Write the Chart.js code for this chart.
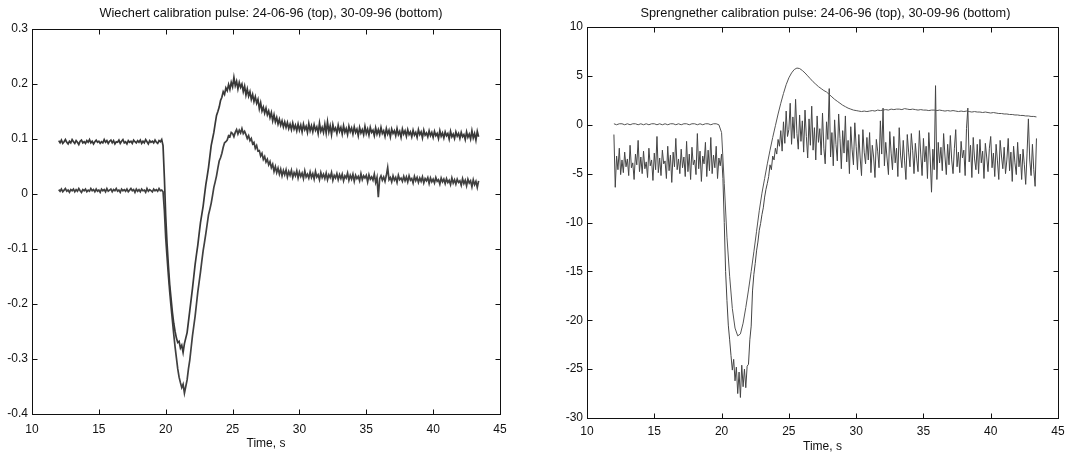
<!DOCTYPE html>
<html><head><meta charset="utf-8">
<script src="https://cdn.jsdelivr.net/npm/chart.js@4.4.1/dist/chart.umd.min.js"></script>
<style>
html,body{margin:0;padding:0;background:#fff;}
#wrap{position:relative;width:1091px;height:454px;background:#fff;}
#c1{position:absolute;left:0;top:0;}
#c2{position:absolute;left:545px;top:0;}
</style></head><body>
<div id="wrap"><canvas id="c1" width="545" height="454"></canvas><canvas id="c2" width="546" height="454"></canvas></div>
<script>
// sampling grids of the traces (seconds)
const T_START = 12.0;
const T_STEP_FINE = 0.1;     // Wiechert traces and noisy Sprengnether trace
const T_STEP_SMOOTH = 0.2;   // smooth Sprengnether trace

// Wiechert, 24-06-96 (top trace), 0.1 s samples
const wiechertTop = [
 0.097,0.093,0.098,0.092,0.095,0.099,0.094,0.091,0.096,0.093,
 0.099,0.095,0.092,0.097,0.094,0.090,0.096,0.098,0.093,0.095,
 0.092,0.097,0.094,0.099,0.093,0.096,0.091,0.095,0.098,0.094,
 0.096,0.092,0.095,0.093,0.099,0.094,0.097,0.092,0.096,0.098,
 0.093,0.097,0.091,0.095,0.094,0.098,0.092,0.096,0.099,0.093,
 0.095,0.091,0.097,0.094,0.096,0.092,0.098,0.095,0.093,0.097,
 0.094,0.098,0.092,0.096,0.093,0.099,0.095,0.091,0.097,0.094,
 0.096,0.093,0.098,0.094,0.092,0.097,0.095,0.099,0.088,0.030,
 -0.040,-0.090,-0.130,-0.165,-0.190,-0.215,-0.235,-0.250,-0.262,-0.270,
 -0.268,-0.280,-0.275,-0.288,-0.272,-0.262,-0.252,-0.232,-0.212,-0.192,
 -0.172,-0.150,-0.128,-0.110,-0.093,-0.072,-0.052,-0.037,-0.022,-0.002,
 0.017,0.032,0.048,0.068,0.088,0.100,0.112,0.128,0.143,0.150,
 0.158,0.170,0.176,0.186,0.181,0.193,0.188,0.199,0.190,0.203,
 0.195,0.212,0.197,0.205,0.191,0.203,0.194,0.200,0.186,0.196,
 0.180,0.191,0.178,0.186,0.172,0.181,0.168,0.177,0.165,0.172,
 0.155,0.166,0.151,0.158,0.147,0.156,0.144,0.151,0.139,0.148,
 0.133,0.144,0.131,0.139,0.127,0.136,0.125,0.133,0.122,0.131,
 0.121,0.130,0.119,0.127,0.117,0.129,0.118,0.125,0.115,0.127,
 0.116,0.125,0.113,0.127,0.117,0.123,0.112,0.128,0.115,0.124,
 0.113,0.126,0.116,0.122,0.110,0.129,0.114,0.121,0.112,0.127,
 0.111,0.131,0.113,0.124,0.108,0.126,0.115,0.120,0.110,0.125,
 0.114,0.121,0.109,0.124,0.112,0.119,0.108,0.123,0.113,0.120,
 0.109,0.122,0.112,0.118,0.106,0.121,0.111,0.117,0.108,0.123,
 0.110,0.118,0.107,0.121,0.112,0.116,0.106,0.120,0.109,0.117,
 0.108,0.121,0.110,0.115,0.105,0.119,0.109,0.116,0.104,0.118,
 0.110,0.115,0.106,0.119,0.108,0.114,0.103,0.118,0.109,0.115,
 0.105,0.117,0.108,0.113,0.104,0.116,0.107,0.112,0.103,0.117,
 0.108,0.113,0.102,0.116,0.107,0.111,0.104,0.115,0.106,0.112,
 0.103,0.114,0.106,0.110,0.101,0.115,0.105,0.111,0.102,0.113,
 0.106,0.110,0.100,0.114,0.104,0.109,0.101,0.113,0.105,0.110,
 0.101,0.112,0.104,0.108,0.099,0.113,0.103,0.109,0.100,0.115,
 0.102,0.110,0.098,0.114,0.104
];
// Wiechert, 30-09-96 (bottom trace), 0.1 s samples
const wiechertBottom = [
 0.008,0.005,0.009,0.004,0.007,0.010,0.005,0.007,0.003,0.008,
 0.006,0.009,0.004,0.008,0.005,0.010,0.006,0.003,0.008,0.006,
 0.009,0.004,0.007,0.005,0.010,0.006,0.008,0.004,0.009,0.005,
 0.007,0.003,0.009,0.006,0.008,0.004,0.010,0.005,0.007,0.009,
 0.004,0.008,0.006,0.010,0.005,0.007,0.003,0.009,0.006,0.008,
 0.005,0.009,0.004,0.007,0.010,0.006,0.008,0.003,0.009,0.005,
 0.008,0.004,0.009,0.006,0.007,0.003,0.010,0.005,0.008,0.006,
 0.004,0.009,0.006,0.008,0.005,0.010,0.006,0.007,0.004,-0.030,
 -0.080,-0.115,-0.148,-0.178,-0.205,-0.230,-0.255,-0.278,-0.298,-0.318,
 -0.333,-0.343,-0.352,-0.346,-0.362,-0.350,-0.338,-0.318,-0.302,-0.280,
 -0.258,-0.240,-0.222,-0.200,-0.178,-0.160,-0.142,-0.122,-0.103,-0.088,
 -0.072,-0.055,-0.038,-0.028,-0.017,-0.003,0.012,0.022,0.033,0.047,
 0.060,0.066,0.074,0.085,0.093,0.095,0.098,0.106,0.104,0.112,
 0.110,0.104,0.112,0.117,0.109,0.116,0.111,0.119,0.110,0.114,
 0.108,0.101,0.106,0.097,0.101,0.091,0.094,0.083,0.088,0.078,
 0.079,0.069,0.074,0.063,0.068,0.058,0.063,0.053,0.059,0.048,
 0.054,0.041,0.050,0.039,0.047,0.036,0.045,0.033,0.043,0.035,
 0.044,0.031,0.041,0.034,0.043,0.030,0.039,0.033,0.042,0.029,
 0.040,0.032,0.038,0.028,0.042,0.031,0.036,0.029,0.040,0.030,
 0.037,0.027,0.041,0.031,0.035,0.026,0.039,0.030,0.036,0.028,
 0.038,0.026,0.035,0.030,0.039,0.025,0.034,0.029,0.037,0.026,
 0.035,0.028,0.036,0.024,0.033,0.029,0.038,0.025,0.034,0.027,
 0.036,0.023,0.034,0.028,0.032,0.024,0.037,0.026,0.033,0.029,
 0.034,0.022,0.035,0.027,0.031,0.025,0.036,0.021,0.030,-0.006,
 0.028,0.033,0.025,0.031,0.023,0.034,0.048,0.026,0.030,0.022,
 0.033,0.025,0.030,0.021,0.034,0.026,0.029,0.023,0.032,0.024,
 0.031,0.022,0.033,0.025,0.028,0.020,0.032,0.024,0.030,0.021,
 0.029,0.023,0.031,0.020,0.028,0.024,0.030,0.019,0.029,0.022,
 0.027,0.020,0.030,0.023,0.026,0.018,0.029,0.022,0.027,0.019,
 0.028,0.021,0.025,0.017,0.029,0.020,0.026,0.018,0.027,0.021,
 0.024,0.016,0.028,0.019,0.025,0.015,0.027,0.020,0.024,0.013,
 0.026,0.017,0.023,0.012,0.024
];
// Sprengnether, 24-06-96 (top trace, smooth), 0.2 s samples
const sprengTop = [
 0.1,0.0,0.1,0.1,0.0,0.1,0.0,0.1,0.1,0.0,
 0.1,0.0,0.1,0.0,0.1,0.1,0.0,0.1,0.0,0.1,
 0.0,0.1,0.1,0.0,0.1,0.0,0.1,0.1,0.0,0.1,
 0.1,0.0,0.1,0.0,0.1,0.1,0.0,0.1,0.1,0.0,
 -0.8,-6.0,-11.5,-15.5,-18.8,-20.8,-21.6,-21.4,-20.3,-18.7,
 -16.9,-15.0,-13.0,-10.9,-8.8,-7.0,-5.5,-4.0,-2.6,-1.3,
 -0.1,1.1,2.2,3.2,4.1,4.8,5.3,5.65,5.8,5.75,
 5.55,5.3,5.0,4.7,4.4,4.15,3.9,3.7,3.5,3.35,
 3.1,2.85,2.6,2.4,2.2,2.0,1.85,1.7,1.6,1.5,
 1.45,1.4,1.35,1.4,1.35,1.4,1.45,1.4,1.5,1.45,
 1.5,1.55,1.5,1.6,1.55,1.6,1.6,1.55,1.65,1.6,
 1.55,1.6,1.55,1.5,1.55,1.5,1.5,1.45,1.5,1.5,
 1.45,1.5,1.45,1.4,1.45,1.4,1.45,1.4,1.35,1.4,
 1.35,1.4,1.35,1.3,1.35,1.3,1.3,1.25,1.3,1.25,
 1.2,1.25,1.2,1.15,1.15,1.1,1.1,1.05,1.05,1.0,
 1.0,0.95,0.95,0.9,0.9,0.85,0.85,0.8
];
// Sprengnether, 30-09-96 (bottom trace, noisy), 0.1 s samples
const sprengBottom = [
 -1.0,-6.4,-3.2,-4.6,-2.4,-5.1,-3.6,-4.9,-2.8,-4.3,
 -3.5,-5.2,-2.1,-4.4,-3.9,-5.6,-3.0,-4.1,-1.6,-4.8,
 -3.3,-5.0,-2.7,-4.5,-3.8,-5.4,-2.4,-4.2,-3.6,-5.7,
 -2.9,-4.6,-1.2,-4.9,-3.4,-5.2,-2.6,-4.0,-3.7,-5.5,
 -2.2,-4.7,-3.1,-5.9,-2.8,-4.3,-1.4,-4.6,-3.5,-5.0,
 -2.5,-4.4,-3.3,-5.3,-1.7,-4.8,-3.0,-5.6,-2.3,-4.1,
 -3.6,-5.1,-0.9,-4.5,-2.7,-5.8,-3.2,-4.0,-1.8,-5.3,
 -2.6,-4.7,-1.3,-5.0,-3.1,-4.4,-2.2,-5.5,-3.4,-4.2,
 -3.0,-5.5,-10.0,-15.0,-18.0,-20.5,-22.0,-23.6,-25.1,-24.0,
 -26.2,-24.8,-27.5,-25.3,-27.9,-24.6,-26.8,-25.0,-26.9,-24.7,
 -24.5,-22.0,-20.6,-17.0,-15.3,-14.2,-12.9,-12.0,-10.8,-10.1,
 -9.2,-8.5,-7.4,-6.6,-6.0,-5.3,-4.1,-4.6,-3.2,-3.6,
 -2.4,-3.0,-1.5,-2.2,-0.6,-2.7,0.3,-1.9,1.4,-1.2,
 -0.5,2.2,-2.0,0.8,-1.4,2.6,-0.9,-2.5,1.0,-1.7,
 0.4,-2.8,1.5,-1.2,-3.4,0.6,-2.1,1.9,-2.6,-0.3,
 -3.6,0.9,-1.8,-0.4,-3.1,1.2,-2.4,-4.0,0.3,-1.5,
 3.7,-3.3,-0.8,-4.2,0.5,-2.0,-3.7,1.1,-1.4,-4.5,
 -0.6,-2.9,0.9,-3.8,-1.6,-5.0,-0.2,-2.5,-4.1,0.2,
 -2.2,-4.6,-1.0,-3.4,-5.2,-0.5,-2.8,-4.0,-1.3,-3.6,
 -0.8,-4.9,-2.1,-3.3,-5.4,-1.5,-2.7,-4.4,0.4,-3.0,
 1.7,-4.2,-1.8,-3.5,-5.1,-0.7,-2.9,-4.6,-1.2,-3.9,
 -2.4,-5.3,-0.3,-3.1,-4.4,-1.6,-3.7,-5.6,-1.0,-2.8,
 -4.3,-0.9,-2.6,-5.0,-1.9,-3.5,-4.8,-0.6,-3.0,-5.2,
 -1.4,-3.8,-2.2,-5.5,-0.8,-3.3,-6.9,-2.5,-4.6,4.0,
 -5.6,-1.8,-3.9,-2.3,-4.7,-0.9,-3.2,-5.1,-2.0,-4.1,
 -1.1,-3.6,-5.0,-2.4,-0.5,-4.3,-2.8,-4.9,-1.7,-3.4,
 -2.6,-5.2,-0.4,1.7,-3.8,-2.1,-5.4,-1.3,-3.5,-4.6,
 -2.0,-5.0,-1.5,-3.9,-2.7,-5.5,-1.9,-3.3,-4.8,-2.4,
 -1.2,-4.4,-2.9,-5.3,-2.0,-3.7,-5.6,-1.6,-3.2,-4.5,
 -2.3,-5.0,-3.6,-1.4,-4.7,-2.8,-5.8,-2.2,-3.9,-5.1,
 -1.8,-4.3,-3.0,-5.6,-2.5,-4.1,-6.1,-2.9,0.6,-3.6,
 -5.2,-2.0,-4.6,-6.3,-1.4
];

const xTicks = [10,15,20,25,30,35,40,45];
const wiechertYTicks = [-0.4,-0.3,-0.2,-0.1,0,0.1,0.2,0.3];
const wiechertYLabels = ['-0.4','-0.3','-0.2','-0.1','0','0.1','0.2','0.3'];
const sprengYTicks = [-30,-25,-20,-15,-10,-5,0,5,10];
const sprengYLabels = ['-30','-25','-20','-15','-10','-5','0','5','10'];
const wiechertTitle = 'Wiechert calibration pulse: 24-06-96 (top), 30-09-96 (bottom)';
const sprengTitle = 'Sprengnether calibration pulse: 24-06-96 (top), 30-09-96 (bottom)';
const xTitle = 'Time, s';

const pts = (arr, step) => arr.map((v, i) => ({x: +(T_START + i * step).toFixed(1), y: v}));

Chart.defaults.font.family = "'Liberation Sans', Arial, sans-serif";
Chart.defaults.color = '#111';

const frameTicks = {
  id: 'frameTicks',
  afterDraw(chart) {
    const {ctx, chartArea: a, scales: {x, y}} = chart;
    const L = Math.round(a.left) + 0.5, R = Math.round(a.right) + 0.5;
    const T = Math.round(a.top) + 0.5, B = Math.round(a.bottom) + 0.5;
    ctx.save();
    ctx.strokeStyle = '#111';
    ctx.lineWidth = 1;
    ctx.beginPath();
    ctx.rect(L, T, R - L, B - T);
    x.ticks.forEach(t => {
      const p = Math.round(x.getPixelForValue(t.value)) + 0.5;
      ctx.moveTo(p, B); ctx.lineTo(p, B - 5);
      ctx.moveTo(p, T); ctx.lineTo(p, T + 5);
    });
    y.ticks.forEach(t => {
      const p = Math.round(y.getPixelForValue(t.value)) + 0.5;
      ctx.moveTo(L, p); ctx.lineTo(L + 5, p);
      ctx.moveTo(R, p); ctx.lineTo(R - 5, p);
    });
    ctx.stroke();
    ctx.restore();
  }
};

function makeChart(id, cfg) {
  return new Chart(document.getElementById(id), {
    type: 'line',
    data: {
      datasets: cfg.series.map(s => ({
        data: pts(s.values, s.step),
        borderColor: s.color,
        borderWidth: s.width,
        pointRadius: 0,
        tension: 0,
        fill: false
      }))
    },
    options: {
      responsive: false,
      animation: false,
      devicePixelRatio: 1,
      layout: {padding: {left: cfg.padLeft, right: cfg.padRight, top: 0, bottom: 0}},
      plugins: {
        legend: {display: false},
        tooltip: {enabled: false},
        title: {
          display: true,
          text: cfg.title,
          color: '#111',
          font: {size: 12.75, weight: 'normal'},
          padding: {top: cfg.titleTop, bottom: cfg.titleBottom}
        }
      },
      scales: {
        x: {
          type: 'linear',
          min: 10, max: 45,
          afterBuildTicks: s => { s.ticks = xTicks.map(v => ({value: v})); },
          afterFit: s => { s.height = cfg.xHeight; },
          grid: {drawOnChartArea: false, drawTicks: false},
          border: {display: true, color: '#111', width: 1},
          ticks: {font: {size: 12}, color: '#111', padding: cfg.xPad, maxRotation: 0, autoSkip: false},
          title: {display: true, text: xTitle, color: '#111', font: {size: 12}, padding: {top: 0, bottom: cfg.xTitlePad}}
        },
        y: {
          type: 'linear',
          min: cfg.yTicks[0], max: cfg.yTicks[cfg.yTicks.length - 1],
          afterBuildTicks: s => { s.ticks = cfg.yTicks.map(v => ({value: v})); },
          afterFit: s => { s.width = cfg.yWidth; },
          grid: {drawOnChartArea: false, drawTicks: false},
          border: {display: true, color: '#111', width: 1},
          ticks: {
            font: {size: 12}, color: '#111', padding: 4, autoSkip: false,
            callback: (v) => cfg.yLabels[cfg.yTicks.indexOf(v)] ?? ''
          }
        },
        // empty right-hand margin axis (keeps the plot box where it is)
        yMargin: {
          type: 'linear',
          position: 'right',
          min: 0, max: 1,
          afterFit: s => { s.width = cfg.rightWidth; },
          grid: {display: false, drawTicks: false},
          border: {display: false},
          ticks: {display: false}
        }
      }
    },
    plugins: [frameTicks]
  });
}

makeChart('c1', {
  title: wiechertTitle,
  series: [
    {values: wiechertTop, step: T_STEP_FINE, color: '#383838', width: 1.7},
    {values: wiechertBottom, step: T_STEP_FINE, color: '#404040', width: 1.7}
  ],
  yTicks: wiechertYTicks, yLabels: wiechertYLabels,
  padLeft: 0, padRight: 3, rightWidth: 42, titleTop: 6, titleBottom: 7.7,
  xHeight: 40, yWidth: 32, xPad: 8, xTitlePad: 3
});

makeChart('c2', {
  title: sprengTitle,
  series: [
    {values: sprengTop, step: T_STEP_SMOOTH, color: '#555', width: 1},
    {values: sprengBottom, step: T_STEP_FINE, color: '#444', width: 1}
  ],
  yTicks: sprengYTicks, yLabels: sprengYLabels,
  padLeft: 15, padRight: 0, rightWidth: 33, titleTop: 5.5, titleBottom: 6.2,
  xHeight: 36, yWidth: 27, xPad: 6, xTitlePad: 0
});
</script>
</body></html>
